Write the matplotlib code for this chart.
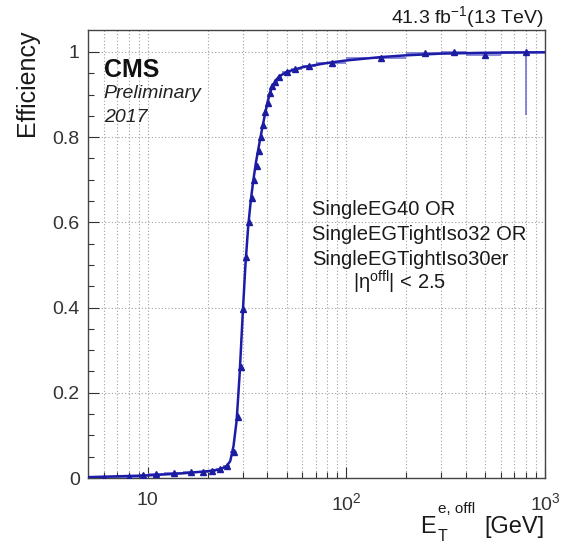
import numpy as np
import matplotlib
matplotlib.use('Agg')
import matplotlib.pyplot as plt
from matplotlib.ticker import FixedLocator, NullFormatter

plt.rcParams['font.family'] = ['Liberation Sans', 'DejaVu Sans']
plt.rcParams['mathtext.fontset'] = 'custom'
plt.rcParams['mathtext.rm'] = 'Liberation Sans'
plt.rcParams['mathtext.it'] = 'Liberation Sans:italic'

# measured points (bin centre, efficiency) and bin edges
pt = [6, 8, 9.5, 11, 13.5, 16.5, 19, 21, 23, 25, 27, 28.4, 29.3, 30.3, 31.3, 32.2,
      33.4, 34.3, 35.4, 36.2, 37.2, 38.1, 39.1, 40.1, 41.2, 42.3, 43.8, 46, 50, 55,
      65, 85, 150, 250, 350, 500, 800]
eff = [0.001, 0.002, 0.006, 0.009, 0.012, 0.015, 0.015, 0.017, 0.020, 0.027, 0.060,
       0.144, 0.260, 0.396, 0.518, 0.600, 0.658, 0.699, 0.732, 0.768, 0.800, 0.829,
       0.858, 0.881, 0.903, 0.919, 0.930, 0.942, 0.954, 0.959, 0.968, 0.975, 0.985,
       0.997, 0.999, 0.993, 0.999]
bin_lo = [5, 7, 9, 10, 12, 15, 18, 20, 22, 24, 26, 28, 29, 30, 31, 32, 33, 34, 35, 36,
          37, 38, 39, 40, 41, 42, 43, 45, 47.5, 52.5, 60, 70, 100, 200, 300, 400, 600]
bin_hi = [7, 9, 10, 12, 15, 18, 20, 22, 24, 26, 28, 29, 30, 31, 32, 33, 34, 35, 36, 37,
          38, 39, 40, 41, 42, 43, 45, 47.5, 52.5, 60, 70, 100, 200, 300, 400, 600, 1000]
err_dn = [0.001, 0.001, 0.002, 0.002, 0.002, 0.002, 0.002, 0.002, 0.002, 0.003, 0.006,
          0.008, 0.008, 0.008, 0.008, 0.008, 0.007, 0.007, 0.007, 0.006, 0.006, 0.006,
          0.006, 0.005, 0.005, 0.005, 0.005, 0.004, 0.003, 0.003, 0.003, 0.003, 0.003,
          0.003, 0.004, 0.009, 0.147]
err_up = [0.001, 0.001, 0.002, 0.002, 0.002, 0.002, 0.002, 0.002, 0.002, 0.003, 0.006,
          0.008, 0.008, 0.008, 0.008, 0.008, 0.007, 0.007, 0.007, 0.006, 0.006, 0.006,
          0.006, 0.005, 0.005, 0.005, 0.005, 0.004, 0.003, 0.003, 0.003, 0.003, 0.003,
          0.002, 0.001, 0.006, 0.001]

# fitted turn-on curve
fit_pt = [5, 10, 15, 20, 23, 25, 26, 27, 28, 29, 30, 31, 32, 33, 34, 35, 36, 37, 38,
          39, 40, 41, 42, 44, 46, 50, 60, 80, 100, 150, 200, 300, 500, 1000]
fit_eff = [0.002, 0.006, 0.011, 0.016, 0.020, 0.028, 0.040, 0.075, 0.135, 0.245,
           0.380, 0.500, 0.590, 0.652, 0.700, 0.740, 0.772, 0.802, 0.830, 0.857, 0.881,
           0.900, 0.915, 0.933, 0.943, 0.953, 0.964, 0.974, 0.980, 0.988, 0.992, 0.996,
           0.998, 0.999]

pt_a = np.array(pt)
xerr = [pt_a - np.array(bin_lo), np.array(bin_hi) - pt_a]

fig = plt.figure(figsize=(5.61, 5.43), dpi=100)
ax = fig.add_axes([0.157, 0.1197, 0.8145, 0.8255])

ax.errorbar(pt, eff, xerr=xerr, yerr=[err_dn, err_up], fmt='none',
            ecolor='#6a6ad0', elinewidth=1.4, alpha=0.8, zorder=3)
ax.plot(fit_pt, fit_eff, color='#1c1ca8', lw=1.8, zorder=4)
ax.plot(pt, eff, ls='none', marker='^', ms=4.5, color='#1c1ca0', zorder=5)

ax.set_xscale('log')
ax.set_xlim(5, 1000)
ax.set_ylim(0, 1.052)

xmaj = [10, 100, 1000]
xmin = [6, 7, 8, 9, 20, 30, 40, 50, 60, 70, 80, 90, 200, 300, 400, 500, 600, 700, 800, 900]
ax.xaxis.set_major_locator(FixedLocator(xmaj))
ax.xaxis.set_minor_locator(FixedLocator(xmin))
ax.xaxis.set_minor_formatter(NullFormatter())
ax.set_xticklabels(['10', r'$\mathdefault{10^{2}}$', r'$\mathdefault{10^{3}}$'])

ax.yaxis.set_major_locator(FixedLocator([0, 0.2, 0.4, 0.6, 0.8, 1.0]))
ax.yaxis.set_minor_locator(FixedLocator(np.arange(0.05, 1.05, 0.05)))
ax.set_yticklabels(['0', '0.2', '0.4', '0.6', '0.8', '1'])

ax.grid(True, which='both', axis='x', ls=(0, (1, 2)), color='#a0a0a0', lw=0.8)
ax.grid(True, which='major', axis='y', ls=(0, (1, 2)), color='#a0a0a0', lw=0.8)
ax.set_axisbelow(True)

ax.tick_params(which='both', direction='in', labelsize=14, colors='#333333')
ax.tick_params(which='major', length=8, width=0.8)
ax.tick_params(which='minor', length=4, width=0.8)
ax.tick_params(axis='x', pad=10)
ax.tick_params(axis='y', pad=6)
for s in ax.spines.values():
    s.set_color('#444444')
    s.set_linewidth(1.0)

ax.set_ylabel('Efficiency', fontsize=18, color='#1a1a1a', loc='top', labelpad=10)

# x axis title built from pieces: E, subscript T, superscript "e, offl", [GeV]
fig.text(420 / 561, 1 - 533 / 543, 'E', fontsize=17, color='#1a1a1a', va='baseline')
fig.text(437.5 / 561, 1 - 541 / 543, 'T', fontsize=11.5, color='#1a1a1a', va='baseline')
fig.text(438 / 561, 1 - 513 / 543, 'e, offl', fontsize=11, color='#1a1a1a', va='baseline')
fig.text(544 / 561, 1 - 533 / 543, '[GeV]', fontsize=17, color='#1a1a1a',
         ha='right', va='baseline')

fig.text(0.185, 0.858, 'CMS', fontsize=18, fontweight='bold', color='#111111')
fig.text(0.185, 0.820, 'Preliminary', fontsize=14, style='italic', color='#222222')
fig.text(0.185, 0.776, '2017', fontsize=14, style='italic', color='#222222')

lines = ['SingleEG40 OR', 'SingleEGTightIso32 OR', 'SingleEGTightIso30er']
for i, t in enumerate(lines):
    fig.text(0.556, 0.604 - i * 0.046, t, fontsize=14.5, color='#1a1a1a')
fig.text(0.630, 0.466, r'|$\mathrm{\eta^{offl}}$| < 2.5', fontsize=14.5, color='#1a1a1a')

fig.text(0.969, 0.958, r'41.3 fb$^{\mathrm{-1}}$(13 TeV)', fontsize=14,
         ha='right', va='baseline', color='#1a1a1a')

fig.savefig('out.png', dpi=100)
